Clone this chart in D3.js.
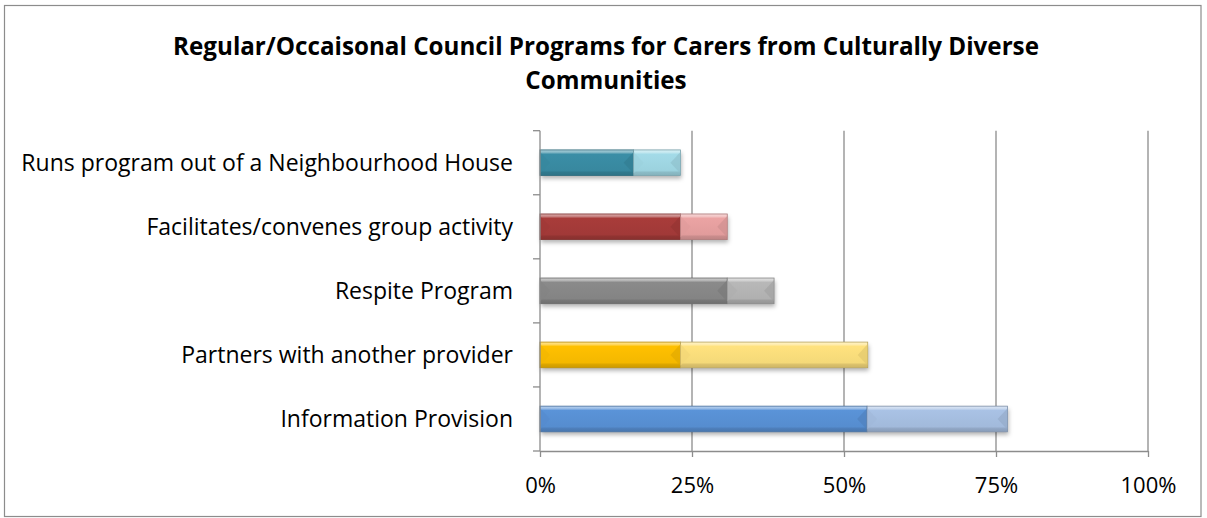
<!DOCTYPE html>
<html>
<head>
<meta charset="utf-8">
<script src="https://cdn.jsdelivr.net/npm/d3@7"></script>
<style>
  html, body { margin: 0; padding: 0; background: #fff; }
  svg { display: block; }
  text { font-family: "Open Sans", Lato, "Liberation Sans", sans-serif; fill: #000; }
</style>
</head>
<body>
<svg id="chart" width="1207" height="518"></svg>
<script>
// Programs offered, top row first
const categories = [
  "Runs program out of a Neighbourhood House",
  "Facilitates/convenes group activity",
  "Respite Program",
  "Partners with another provider",
  "Information Provision"
];
// Share of councils (%) running each program regularly
const regular = [15.4, 23.1, 30.8, 23.1, 53.8];
// Share of councils (%) running each program occasionally
const occasional = [7.7, 7.7, 7.7, 30.8, 23.1];
const xTicks = [0, 25, 50, 75, 100];
const xTickLabels = ["0%", "25%", "50%", "75%", "100%"];
const titleLines = [
  "Regular/Occaisonal Council Programs for Carers from Culturally Diverse",
  "Communities"
];
// Dark (regular) and light (occasional) fill per row
const darkColors = ["#3a8ea6", "#a83c3a", "#8a8a8a", "#ffc000", "#5a93d8"];
const lightColors = ["#a3dbe8", "#eba3a3", "#b8b8b8", "#ffe27e", "#a9c2e5"];

const svg = d3.select("#chart");
const W = 1207, H = 518;
const plot = { left: 540, right: 1148, top: 130.7, bottom: 451 };

// Outer frame
svg.append("rect")
  .attr("x", 4.5).attr("y", 5.5)
  .attr("width", W - 6 - 4.5).attr("height", H - 1.5 - 5.5)
  .attr("fill", "#fff").attr("stroke", "#8c8c8c").attr("stroke-width", 1.2);

// Title
const title = svg.append("text")
  .attr("text-anchor", "middle")
  .attr("font-weight", "bold")
  .attr("font-size", 24.2);
titleLines.forEach((t, i) => {
  title.append("tspan").attr("x", 606).attr("y", 55 + i * 34).text(t);
});

const x = d3.scaleLinear().domain([0, 100]).range([plot.left, plot.right]);
const y = d3.scaleBand().domain(categories)
  .range([plot.top, plot.bottom])
  .paddingInner(0.6).paddingOuter(0.3);
const yBand = d3.scaleBand().domain(categories).range([plot.top, plot.bottom]);

const defs = svg.append("defs");
const shadow = defs.append("filter").attr("id", "shadow")
  .attr("x", "-5%").attr("y", "-30%").attr("width", "110%").attr("height", "180%");
shadow.append("feDropShadow")
  .attr("dx", 1).attr("dy", 3).attr("stdDeviation", 2.2)
  .attr("flood-color", "#000").attr("flood-opacity", 0.3);

function makeGradient(id, base) {
  const c = d3.color(base);
  const g = defs.append("linearGradient").attr("id", id)
    .attr("x1", 0).attr("y1", 0).attr("x2", 0).attr("y2", 1);
  const mix = (t) => d3.interpolateRgb(base, "#fff")(t);
  const dark = (k) => c.darker(k).formatHex();
  [[0, mix(0.6)], [0.1, mix(0.35)], [0.17, base], [0.8, dark(0.12)], [0.88, dark(0.45)], [1, dark(0.6)]]
    .forEach(([o, col]) => g.append("stop").attr("offset", o).attr("stop-color", col));
}
categories.forEach((_, i) => {
  makeGradient("gd" + i, darkColors[i]);
  makeGradient("gl" + i, lightColors[i]);
});

// Gridlines
svg.append("g").selectAll("line").data(xTicks.slice(1)).join("line")
  .attr("x1", d => x(d)).attr("x2", d => x(d))
  .attr("y1", plot.top).attr("y2", plot.bottom)
  .attr("stroke", "#8c8c8c").attr("stroke-width", 1.3);

// Stacked segments
const segments = [];
categories.forEach((cat, i) => {
  segments.push({ cat, i, x0: 0, x1: regular[i], fill: "url(#gd" + i + ")", base: darkColors[i] });
  segments.push({ cat, i, x0: regular[i], x1: regular[i] + occasional[i], fill: "url(#gl" + i + ")", base: lightColors[i] });
});

const bars = svg.append("g");
bars.selectAll("rect.shadow").data(categories).join("rect")
  .attr("class", "shadow")
  .attr("x", x(0))
  .attr("y", d => y(d))
  .attr("width", (d, i) => x(regular[i] + occasional[i]) - x(0))
  .attr("height", y.bandwidth())
  .attr("fill", "#fff")
  .attr("filter", "url(#shadow)");

const seg = bars.selectAll("g.seg").data(segments).join("g").attr("class", "seg");
seg.append("rect")
  .attr("x", d => x(d.x0)).attr("y", d => y(d.cat))
  .attr("width", d => x(d.x1) - x(d.x0)).attr("height", y.bandwidth())
  .attr("fill", d => d.fill)
  .attr("stroke", d => d3.color(d.base).darker(0.9).formatHex())
  .attr("stroke-width", 0.8);
// Bevel facets at both ends of each segment
seg.append("path")
  .attr("d", d => {
    const x0 = x(d.x0), y0 = y(d.cat), h = y.bandwidth();
    const b = Math.min(10, (x(d.x1) - x0) / 2);
    return `M${x0},${y0 + 2}L${x0 + b},${y0 + h / 2}L${x0},${y0 + h - 2}Z`;
  })
  .attr("fill", d => d3.color(d.base).darker(0.15).formatHex())
  .attr("opacity", 0.6);
seg.append("path")
  .attr("d", d => {
    const x1 = x(d.x1), y0 = y(d.cat), h = y.bandwidth();
    const b = Math.min(10, (x1 - x(d.x0)) / 2);
    return `M${x1},${y0 + 2}L${x1 - b},${y0 + h / 2}L${x1},${y0 + h - 2}Z`;
  })
  .attr("fill", d => d3.color(d.base).darker(0.4).formatHex())
  .attr("opacity", 0.6);

// Axes
const xAxis = svg.append("g")
  .attr("transform", `translate(0,${plot.bottom})`)
  .call(d3.axisBottom(x).tickValues(xTicks)
    .tickFormat((d, i) => xTickLabels[i]).tickSize(6).tickPadding(20).tickSizeOuter(0));
xAxis.select(".domain").attr("stroke", "#8c8c8c").attr("stroke-width", 1.3);
xAxis.selectAll(".tick line").attr("stroke", "#8c8c8c").attr("stroke-width", 1.3);
xAxis.selectAll(".tick text").attr("font-size", 22).attr("font-family", null);

const yAxis = svg.append("g").attr("transform", `translate(${plot.left},0)`);
yAxis.append("line")
  .attr("x1", 0).attr("x2", 0).attr("y1", plot.top).attr("y2", plot.bottom)
  .attr("stroke", "#8c8c8c").attr("stroke-width", 1.3);
const boundaries = categories.map(c => yBand(c)).concat([plot.bottom]);
yAxis.selectAll("line.tk").data(boundaries).join("line").attr("class", "tk")
  .attr("x1", -7).attr("x2", 0).attr("y1", d => d).attr("y2", d => d)
  .attr("stroke", "#8c8c8c").attr("stroke-width", 1.3);
yAxis.selectAll("text").data(categories).join("text")
  .attr("x", -27)
  .attr("y", d => yBand(d) + yBand.bandwidth() / 2)
  .attr("dy", "0.35em")
  .attr("text-anchor", "end")
  .attr("font-size", 23)
  .text(d => d);
</script>
</body>
</html>
